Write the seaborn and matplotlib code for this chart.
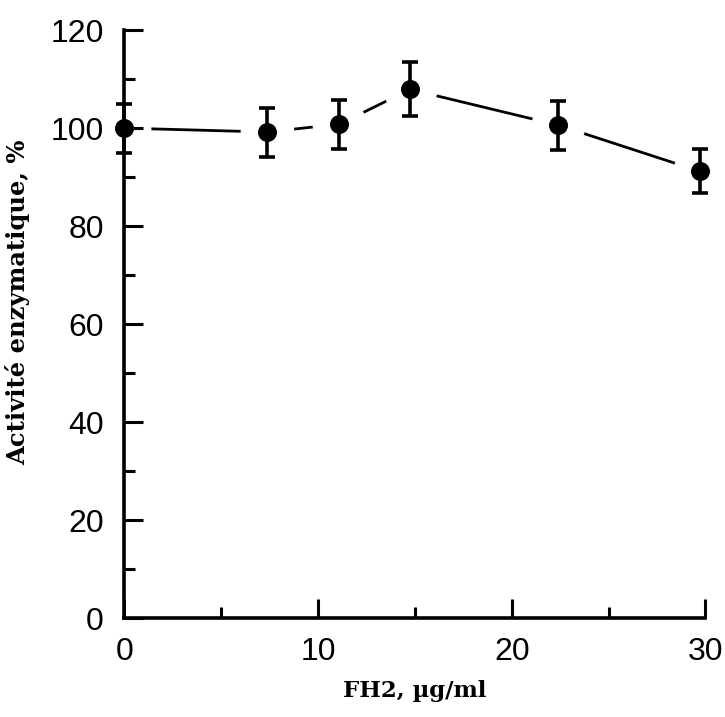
import matplotlib
matplotlib.use("Agg")
import matplotlib.pyplot as plt
import seaborn as sns
import pandas as pd

# Data
concentration = [0, 7.35, 11.1, 14.75, 22.4, 29.7]          # FH2, µg/ml
activity = [100.0, 99.2, 100.8, 107.9, 100.6, 91.2]          # %
error = [5.0, 5.0, 5.0, 5.5, 5.0, 4.5]
x_ticks = [0, 10, 20, 30]
y_ticks = [0, 20, 40, 60, 80, 100, 120]
x_label = "FH2, µg/ml"
y_label = "Activité enzymatique, %"

df = pd.DataFrame({"x": concentration, "y": activity, "err": error})

sns.set_style("ticks")
plt.rcParams["font.family"] = ["Liberation Sans", "DejaVu Sans"]
plt.rcParams["text.color"] = "black"
plt.rcParams["axes.labelcolor"] = "black"
plt.rcParams["xtick.color"] = "black"
plt.rcParams["ytick.color"] = "black"

fig = plt.figure(figsize=(7.25, 7.17), dpi=100)
ax = fig.add_axes([0.1717, 0.138, 0.8013, 0.820])
ax.set_axisbelow(False)

# connecting line with white "halo" markers to create gaps around points
sns.lineplot(data=df, x="x", y="y", ax=ax, color="black", linewidth=2.0,
             marker="o", markersize=38, markerfacecolor="white",
             markeredgecolor="white", zorder=1, clip_on=False, sort=False)

ax.errorbar(df["x"], df["y"], yerr=df["err"], fmt="none", ecolor="black",
            elinewidth=2.6, capsize=6, capthick=2.6, zorder=3, clip_on=False)

sns.scatterplot(data=df, x="x", y="y", ax=ax, color="black", s=160,
                edgecolor="black", zorder=4, clip_on=False, legend=False)

ax.set_xlim(0, 30)
ax.set_ylim(0, 120)
ax.set_xticks(x_ticks)
ax.set_yticks(y_ticks)
ax.set_xticks([5, 15, 25], minor=True)
ax.set_yticks([10, 30, 50, 70, 90, 110], minor=True)

ax.tick_params(axis="both", which="major", direction="in", length=14,
               width=2.2, labelsize=23, color="black", labelcolor="black")
ax.tick_params(axis="both", which="minor", direction="in", length=8,
               width=2.2, color="black")
ax.tick_params(axis="x", which="major", pad=14)
ax.tick_params(axis="y", which="major", pad=15)

for side in ["top", "right"]:
    ax.spines[side].set_visible(False)
for side in ["left", "bottom"]:
    ax.spines[side].set_linewidth(2.6)
    ax.spines[side].set_color("black")
    ax.spines[side].set_zorder(2.6)

ax.set_xlabel(x_label, fontsize=16.5, fontweight="bold",
              family=["DejaVu Serif"], color="black")
ax.set_ylabel(y_label, fontsize=17.5, fontweight="bold",
              family=["DejaVu Serif"], color="black")
ax.xaxis.set_label_coords(0.5, -0.105)
ax.yaxis.set_label_coords(-0.163, 0.537)

fig.savefig("out.png", dpi=100)
